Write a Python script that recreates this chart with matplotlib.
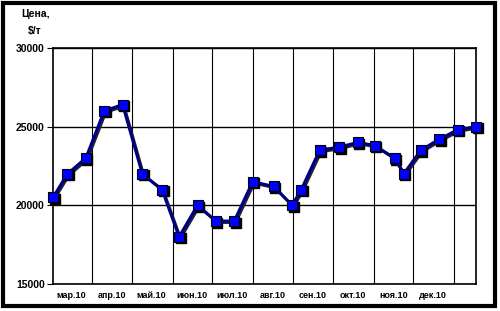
import datetime as dt
import matplotlib
matplotlib.use('Agg')
import matplotlib.pyplot as plt
import matplotlib.transforms as mtransforms
from matplotlib.patches import Rectangle

# price points (biweekly-ish)
dates = ['2010-03-02', '2010-03-13', '2010-03-27', '2010-04-10', '2010-04-24',
         '2010-05-09', '2010-05-24', '2010-06-06', '2010-06-20', '2010-07-04',
         '2010-07-18', '2010-08-01', '2010-08-17', '2010-08-31', '2010-09-07',
         '2010-09-21', '2010-10-06', '2010-10-20', '2010-11-02', '2010-11-17',
         '2010-11-24', '2010-12-07', '2010-12-21', '2011-01-04', '2011-01-18']
prices = [20500, 22000, 23000, 26000, 26400,
          22000, 21000, 18000, 20000, 19000,
          19000, 21500, 21200, 20000, 21000,
          23500, 23700, 24000, 23800, 23000,
          22000, 23500, 24200, 24800, 25000]
month_labels = ['мар.10', 'апр.10', 'май.10', 'июн.10', 'июл.10',
                'авг.10', 'сен.10', 'окт.10', 'ноя.10', 'дек.10']

plt.rcParams['font.family'] = ['Liberation Sans', 'DejaVu Sans']
plt.rcParams['font.weight'] = 'bold'

x = [dt.datetime.strptime(d, '%Y-%m-%d') for d in dates]

fig = plt.figure(figsize=(5.0, 3.11), dpi=100)
ax = fig.add_axes([53/500, 1 - 284/311, (476 - 53)/500, (284 - 48)/311])

# shadow under the line and markers
shadow = mtransforms.offset_copy(ax.transData, fig=fig, x=1.5, y=-1.5, units='dots')
ax.plot(x, prices, color='#202040', lw=2, marker='s', ms=6.5, mfc='black', mec='black',
        transform=shadow, zorder=2, clip_on=False)
ax.plot(x, prices, color='#000080', lw=2.2, marker='s', ms=6.5,
        mfc='#0000ff', mec='black', mew=0.8, zorder=3, clip_on=False)

ax.set_xlim(x[0], x[-1])
ax.set_ylim(15000, 30000)
ax.set_yticks([15000, 20000, 25000, 30000])
ax.tick_params(axis='y', labelsize=7.5, length=4, width=0.8, pad=2)
ax.grid(axis='y', color='black', lw=1)

# month boundaries as grid, labels in the middle of each month
bounds = [dt.datetime(2010, m, 1) for m in range(4, 13)] + [dt.datetime(2011, 1, 1)]
mids = [dt.datetime(2010, m, 16) for m in range(3, 13)]
ax.set_xticks(bounds)
ax.set_xticklabels([])
ax.set_xticks(mids, minor=True)
ax.set_xticklabels(month_labels, minor=True)
ax.tick_params(axis='x', which='major', length=0)
ax.tick_params(axis='x', which='minor', length=0, labelsize=6.5, pad=5)
ax.grid(axis='x', which='major', color='black', lw=0.8)
for s in ax.spines.values():
    s.set_linewidth(1.2)

fig.text(35/500, 1 - 14/311, 'Цена,', ha='center', va='center', fontsize=7.5, fontweight='bold')
fig.text(35/500, 1 - 31/311, '$/т', ha='center', va='center', fontsize=7.5, fontweight='bold')

# outer frame
fig.patches.append(Rectangle((3/500, 1 - 306/311), 492/500, 303/311, transform=fig.transFigure,
                             fill=False, edgecolor='black', lw=3))

fig.savefig('out.png', dpi=100)
